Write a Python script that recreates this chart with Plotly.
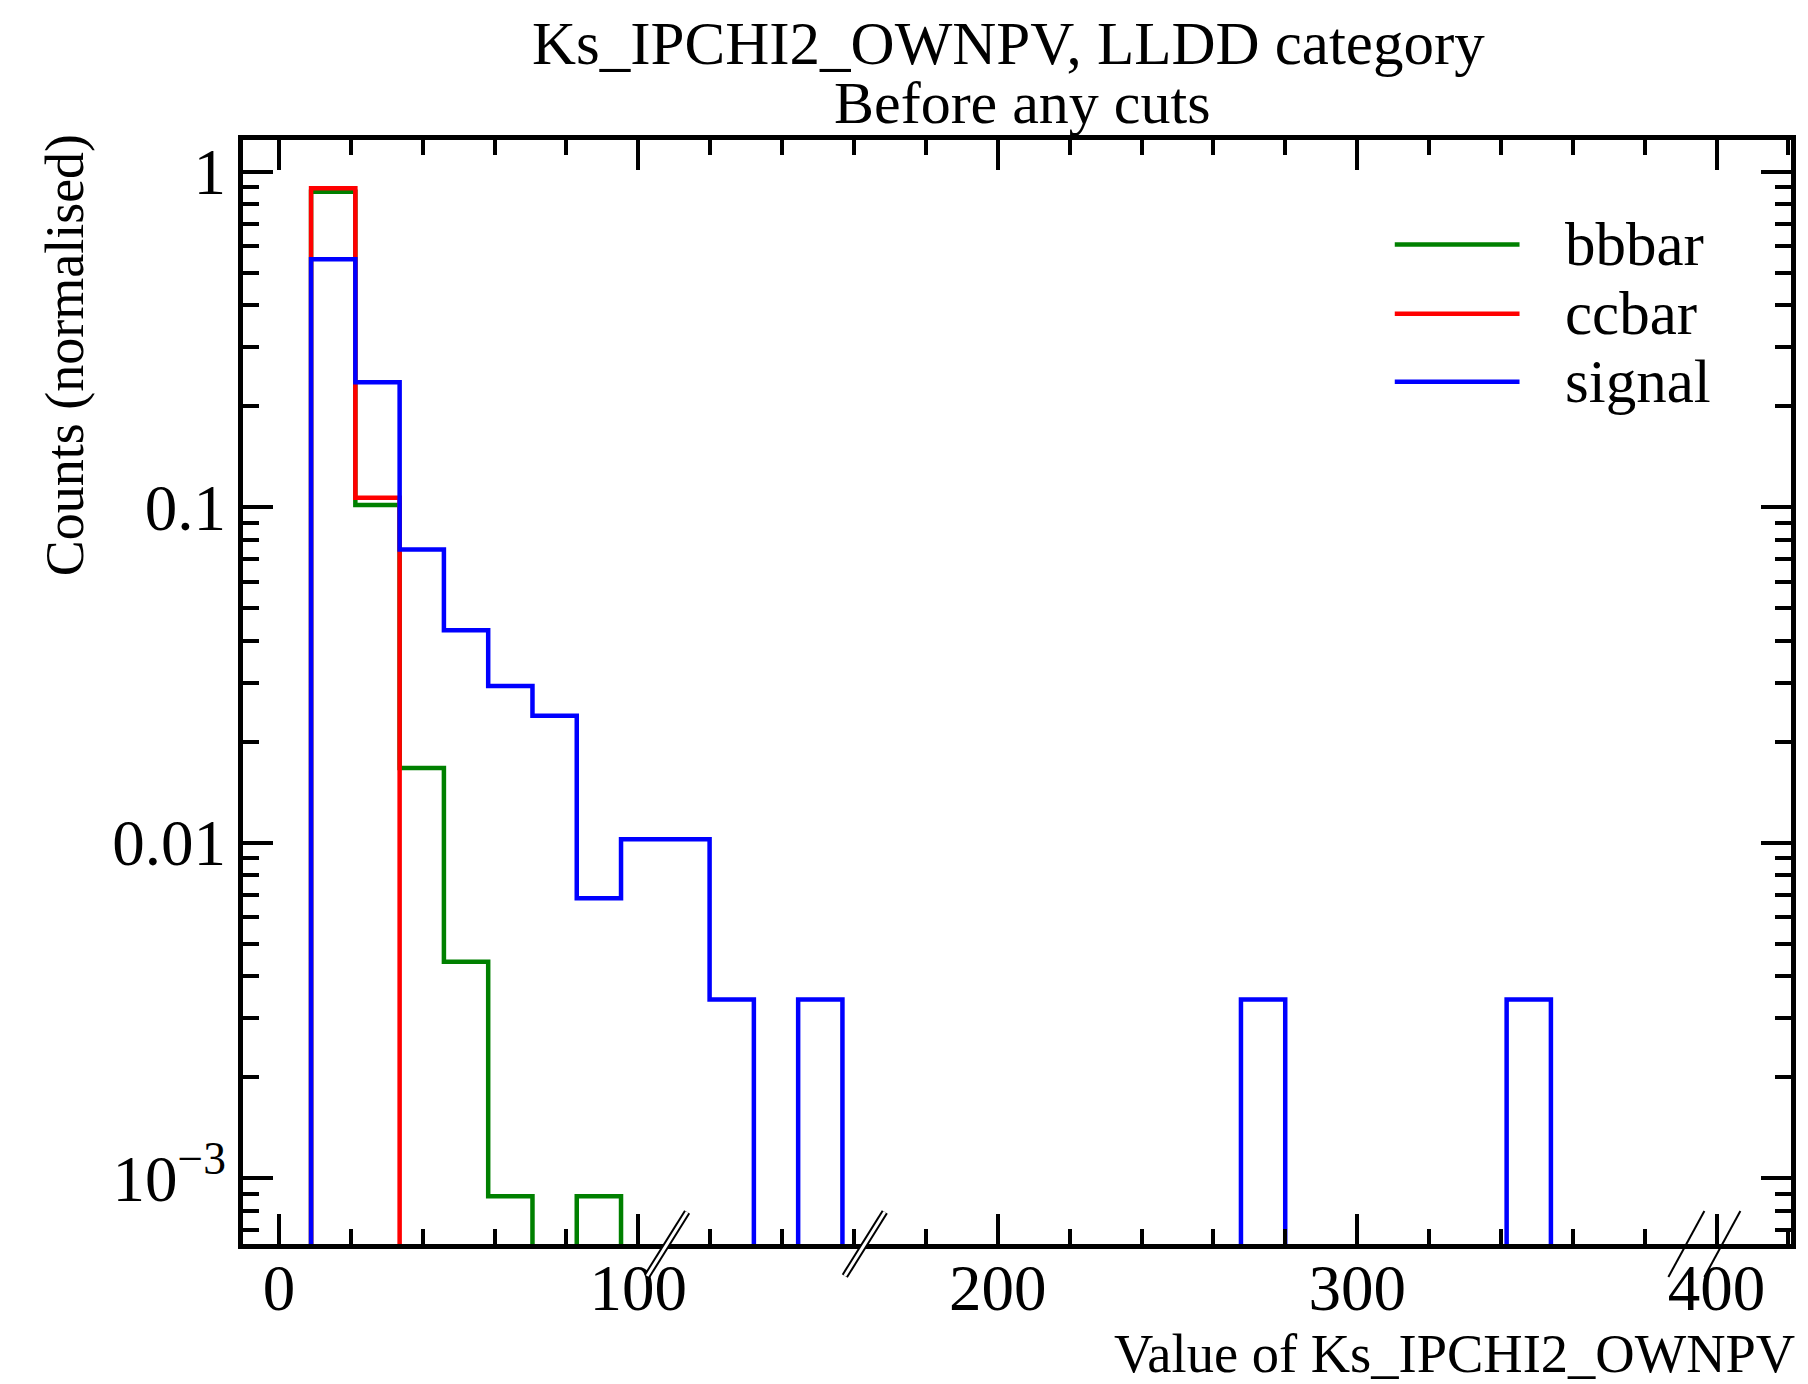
import plotly.graph_objects as go

# Histogram binning (uniform bins)
BIN_LO = 8.94
BIN_WIDTH = 12.32
N_BINS = 28

# Normalised bin contents per sample
bbbar = [0.872, 0.1015, 0.0167, 0.00442, 0.000883, 0, 0.000883,
         0, 0, 0, 0, 0, 0, 0, 0, 0, 0, 0, 0, 0, 0, 0, 0, 0, 0, 0, 0, 0]
ccbar = [0.892, 0.1067, 0, 0, 0, 0, 0, 0, 0, 0, 0, 0, 0, 0,
         0, 0, 0, 0, 0, 0, 0, 0, 0, 0, 0, 0, 0, 0]
signal = [0.548, 0.2356, 0.0748, 0.0430, 0.0293, 0.0239, 0.00683, 0.01024,
          0.01024, 0.00341, 0, 0.00341, 0, 0, 0, 0, 0, 0, 0, 0, 0, 0.00341,
          0, 0, 0, 0, 0, 0.00341]

samples = ["bbbar", "ccbar", "signal"]
colors = {"bbbar": "#008000", "ccbar": "#ff0000", "signal": "#0000ff"}
values = {"bbbar": bbbar, "ccbar": ccbar, "signal": signal}

# axis-break markers along the x axis
break_marks = [108.0, 163.0]
break_mark_wide = 396.6

x_ticks = [0, 100, 200, 300, 400]
y_ticks = [0.001, 0.01, 0.1, 1]
y_ticktext = ["10<sup>\u22123</sup>", "0.01", "0.1", "1"]

FONT = "Liberation Serif"
FLOOR = 1e-6  # empty bins drop below the visible range

# plot-area pixel geometry
L, R, T, B = 243, 1794, 140, 1244
PW, PH = R - L, B - T


def px_x(p):
    return (p - L) / PW


def px_y(p):
    return (B - p) / PH


edges = [BIN_LO + BIN_WIDTH * k for k in range(N_BINS + 1)]

fig = go.Figure()
for name in samples:
    vals = [v if v > 0 else FLOOR for v in values[name]]
    xs = [edges[0]] + edges
    ys = [FLOOR] + vals + [FLOOR]
    fig.add_trace(go.Scatter(
        x=xs, y=ys, mode="lines", line_shape="hv",
        line=dict(color=colors[name], width=4.5),
        name=name, showlegend=False, hoverinfo="skip",
    ))

minor_y = [k * 10.0 ** d for d in range(-4, 1) for k in range(2, 10)]

axis_common = dict(
    showline=True, linewidth=5, linecolor="black", mirror="allticks",
    ticks="inside", tickwidth=4, tickcolor="black", showgrid=False,
    zeroline=False, tickfont=dict(family=FONT, size=65, color="black"),
)

fig.update_layout(
    width=1808, height=1384,
    margin=dict(l=L, r=1808 - R, t=T, b=1384 - B),
    paper_bgcolor="white", plot_bgcolor="white",
    xaxis=dict(
        range=[-10.0, 420.7], tickmode="array", tickvals=x_ticks, ticklen=30,
        ticklabelstandoff=-17,
        minor=dict(ticks="inside", ticklen=15, tickwidth=4, tickcolor="black",
                   dtick=20, tick0=0, showgrid=False),
        **axis_common,
    ),
    yaxis=dict(
        type="log", range=[-3.196, 0.0945], tickmode="array",
        tickvals=y_ticks, ticktext=y_ticktext, ticklen=30,
        ticklabelstandoff=-1,
        minor=dict(ticks="inside", ticklen=16, tickwidth=4, tickcolor="black",
                   tickmode="array", tickvals=minor_y, showgrid=False),
        **axis_common,
    ),
    showlegend=False,
)

# Title (two lines)
fig.add_annotation(text="Ks_IPCHI2_OWNPV, LLDD category", xref="paper", yref="paper",
                   x=px_x(1010), y=px_y(43),
                   xanchor="center", yanchor="middle", showarrow=False,
                   font=dict(family=FONT, size=61, color="black"))
fig.add_annotation(text="Before any cuts", xref="paper", yref="paper",
                   x=px_x(1024), y=px_y(103),
                   xanchor="center", yanchor="middle", showarrow=False,
                   font=dict(family=FONT, size=60, color="black"))

# Axis titles
fig.add_annotation(text="Value of Ks_IPCHI2_OWNPV", xref="paper", yref="paper",
                   x=px_x(1800), y=px_y(1353),
                   xanchor="right", yanchor="middle", showarrow=False,
                   font=dict(family=FONT, size=54.5, color="black"))
fig.add_annotation(text="Counts (normalised)", xref="paper", yref="paper",
                   x=px_x(65), y=px_y(132), textangle=-90,
                   xanchor="center", yanchor="top", showarrow=False,
                   font=dict(family=FONT, size=54, color="black"))

# Legend
legend_rows = [244.5, 313.7, 381.7]
for name, py in zip(samples, legend_rows):
    fig.add_shape(type="line", xref="paper", yref="paper",
                  x0=px_x(1397), x1=px_x(1522), y0=px_y(py), y1=px_y(py),
                  line=dict(color=colors[name], width=4.5))
    fig.add_annotation(text=name, xref="paper", yref="paper",
                       x=px_x(1566), y=px_y(py),
                       xanchor="left", yanchor="middle", showarrow=False,
                       font=dict(family=FONT, size=61, color="black"))

# Axis-break markers
for xb in break_marks:
    for w, c in ((7, "black"), (3, "white")):
        fig.add_shape(type="line", xref="x", yref="paper",
                      xsizemode="pixel", xanchor=xb, x0=-20, x1=20,
                      ysizemode="pixel", yanchor=0, y0=-32, y1=32,
                      line=dict(color=c, width=w), layer="above")
for dx in (-18, 18):
    fig.add_shape(type="line", xref="x", yref="paper",
                  xsizemode="pixel", xanchor=break_mark_wide, x0=dx - 18, x1=dx + 18,
                  ysizemode="pixel", yanchor=0, y0=-33, y1=33,
                  line=dict(color="black", width=2), layer="above")

fig.write_html("out.html")
